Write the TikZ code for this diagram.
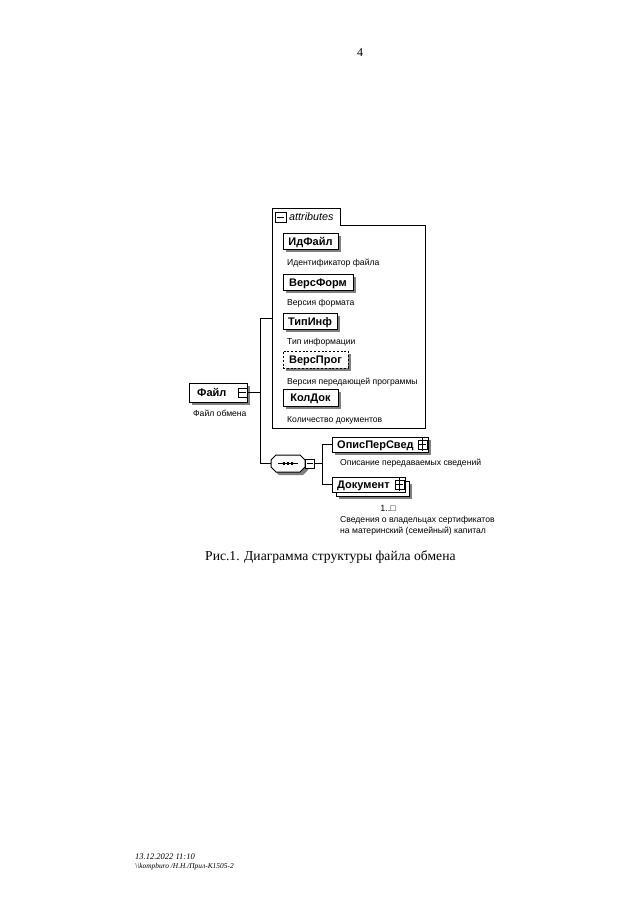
\documentclass[tikz,border=0pt]{standalone}
\usepackage{fontspec}
\setmainfont{Liberation Serif}
\setsansfont{Liberation Sans}
\usetikzlibrary{shadows,calc}
\tikzset{
  shd/.style={drop shadow={shadow xshift=3pt,shadow yshift=-3pt,fill=black!50,opacity=1}},
  lbl/.style={font=\sffamily\bfseries\fontsize{11}{13}\selectfont,text height=8pt,text depth=0pt},
  elem/.style={draw,fill=white,line width=1pt,inner sep=0pt,lbl,shd},
  desc/.style={anchor=west,inner sep=0pt,font=\sffamily\fontsize{8.6}{10}\selectfont},
  pm/.style={draw,fill=white,line width=0.7pt,minimum width=9pt,minimum height=9pt,inner sep=0pt},
  conn/.style={line width=0.9pt},
}
\begin{document}
\begin{tikzpicture}[x=1pt,y=-1pt]
\useasboundingbox (0,0) rectangle (640,905);
% page number
\node[font=\fontsize{12}{14}\selectfont] (pg) at (360,53) {4};
% attributes group
\draw[line width=0.8pt,fill=white] (272,208) -- (340,208) -- (340,225) -- (425,225) -- (425,428) -- (272,428) -- cycle;
\node[pm,minimum width=11pt,minimum height=10pt] (attrm) at (280.5,217) {};
\draw[line width=0.8pt] ($(attrm.west)+(2,0)$) -- ($(attrm.east)+(-2,0)$);
\node[anchor=west,inner sep=0pt,font=\sffamily\itshape\fontsize{10.8}{12}\selectfont] (attrt) at (289,217) {attributes};
\coordinate (attrbox) at (272,318);
% attributes
\node[elem,minimum width=55pt,minimum height=16pt] (idf) at (310.5,241) {ИдФайл};
\node[desc] (idfd) at (287,263) {Идентификатор файла};
\node[elem,minimum width=70pt,minimum height=16pt] (vf) at (318,282) {ВерсФорм};
\node[desc] (vfd) at (287,303) {Версия формата};
\node[elem,minimum width=54pt,minimum height=16pt] (ti) at (310,321) {ТипИнф};
\node[desc] (tid) at (287,342) {Тип информации};
\node[elem,dash pattern=on 2pt off 1.8pt,minimum width=65pt,minimum height=17pt] (vp) at (315.5,359.5) {ВерсПрог};
\node[desc] (vpd) at (287,382) {Версия передающей программы};
\node[elem,minimum width=55pt,minimum height=17pt] (kd) at (310.5,397.5) {КолДок};
\node[desc] (kdd) at (287,420) {Количество документов};
% root
\node[elem,minimum width=58pt,minimum height=19pt] (file) at (218,392.5) {};
\node[anchor=west,inner sep=0pt,lbl] (filel) at (197,392.5) {Файл};
\node[pm] (filem) at (242.5,392.5) {};
\draw[line width=0.8pt] ($(filem.west)+(1.5,0)$) -- ($(filem.east)+(-1.5,0)$);
\node[desc] (filed) at (193,413) {Файл обмена};
% sequence
\fill[black!50] (279,458) -- (303,458) -- (308,463) -- (308,470) -- (303,475) -- (279,475) -- (274,470) -- (274,463) -- cycle;
\draw[line width=1pt,fill=white] (276,455) -- (300,455) -- (305,460) -- (305,467) -- (300,472) -- (276,472) -- (271,467) -- (271,460) -- cycle;
\coordinate (seqw) at (271,463.5);
\draw[line width=0.9pt] (278,463.5) -- (298,463.5);
\foreach \xx in {284,288,292} \fill (\xx-1.3,462.2) rectangle (\xx+1.3,464.8);
\node[pm] (seqm) at (310,463.5) {};
\draw[line width=0.8pt] ($(seqm.west)+(1.5,0)$) -- ($(seqm.east)+(-1.5,0)$);
% children
\node[elem,minimum width=96pt,minimum height=15pt] (ops) at (380,444.5) {};
\node[anchor=west,inner sep=0pt,lbl] (opsl) at (337,444.5) {ОписПерСвед};
\node[pm] (opsp) at (422.5,444.5) {};
\draw[line width=0.7pt] ($(opsp.west)+(1.5,0)$) -- ($(opsp.east)+(-1.5,0)$) ($(opsp.north)+(0,-1.5)$) -- ($(opsp.south)+(0,1.5)$);
\node[desc] (opsd) at (340,463) {Описание передаваемых сведений};
\node[elem,minimum width=73pt,minimum height=15pt] (docb) at (372.5,488.5) {};
\node[draw,fill=white,line width=1pt,minimum width=73pt,minimum height=15pt,inner sep=0pt] (doc) at (368.5,484.5) {};
\node[anchor=west,inner sep=0pt,lbl] (docl) at (337,484.5) {Документ};
\node[pm] (docp) at (399.5,484.5) {};
\draw[line width=0.7pt] ($(docp.west)+(1.5,0)$) -- ($(docp.east)+(-1.5,0)$) ($(docp.north)+(0,-1.5)$) -- ($(docp.south)+(0,1.5)$);
\node[font=\sffamily\fontsize{9}{10}\selectfont,inner sep=0pt] (card) at (388,508) {1..□};
\node[desc] (docd1) at (340,520) {Сведения о владельцах сертификатов};
\node[desc] (docd2) at (340,531) {на материнский (семейный) капитал};
% connectors
\coordinate (j1) at (260,392.5);
\draw[conn] (filem.east) -- (j1);
\draw[conn] (attrbox) -- (260,318) -- (260,463.5) -- (seqw);
\coordinate (j2) at (322,463.5);
\draw[conn] (seqm.east) -- (j2);
\draw[conn] (ops.west) -- (322,444.5) -- (322,484.5) -- (doc.west);
% caption
\node[anchor=west,inner sep=0pt,font=\fontsize{13.6}{16}\selectfont] (cap) at (205,557) {Рис.1. Диаграмма структуры файла обмена};
% footer
\node[anchor=west,inner sep=0pt,font=\itshape\fontsize{8.5}{10}\selectfont] (f1) at (135,857) {13.12.2022 11:10};
\node[anchor=west,inner sep=0pt,font=\itshape\fontsize{7.4}{9}\selectfont] (f2) at (135,867) {\textbackslash\textbackslash kompburo /Н.Н./Прил-К1505-2};
\end{tikzpicture}
\end{document}
